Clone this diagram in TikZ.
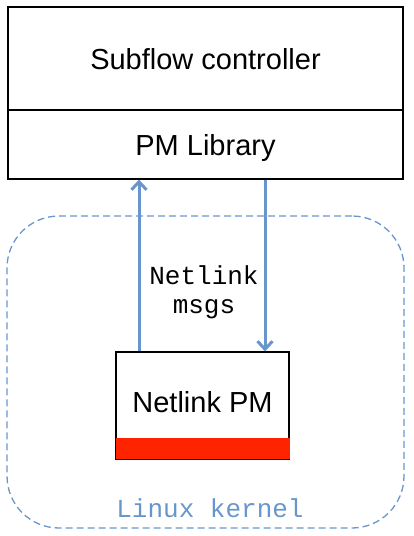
\documentclass[tikz,border=0pt]{standalone}
\usepackage{fontspec}
\setmainfont{Liberation Sans}
\newfontfamily\monofont{Liberation Mono}
\usetikzlibrary{arrows.meta}
\definecolor{kblue}{RGB}{104,150,204}
\definecolor{pmred}{RGB}{255,36,0}
\tikzset{
  box/.style={draw=black, line width=1.2pt, fill=white, inner sep=0pt, text depth=0pt,
    font=\fontsize{29}{34}\selectfont},
  arr/.style={draw=kblue, line width=3pt, -{Straight Barb[length=8pt,width=15pt,line width=3pt]}},
  kernelbox/.style={draw=kblue, line width=1.3pt, dash pattern=on 7pt off 4pt, rounded corners=52pt, inner sep=0pt},
  mono/.style={font=\monofont\fontsize{26}{30}\selectfont},
}
\begin{document}
\begin{tikzpicture}[x=1pt,y=-1pt]
\useasboundingbox (0,0) rectangle (413,536);
\node[kernelbox, minimum width=397pt, minimum height=312pt] (kernel) at (205.5,372) {};
\node[mono, text=kblue] (klabel) at (210,508) {Linux kernel};
\node[box, minimum width=395pt, minimum height=103pt] (sub) at (205.5,58.5) {Subflow controller};
\node[box, minimum width=395pt, minimum height=69pt] (pml) at (205.5,144.5) {PM Library};
\node[box, minimum width=173pt, minimum height=107pt] (npm) at (202.5,405.5) {};
\node[fill=pmred, inner sep=0pt, minimum width=174pt, minimum height=21pt] (band) at (202.5,448.5) {};
\node[font=\fontsize{29}{34}\selectfont, text depth=0pt] (npmtext) at (202.5,402) {Netlink PM};
\coordinate (a1) at (139,0);
\coordinate (a2) at (265,0);
\draw[arr] (npm.north -| a1) -- (pml.south -| a1);
\draw[arr] (pml.south -| a2) -- (npm.north -| a2);
\node[mono, align=center, inner sep=0pt] (msg) at (204,292) {Netlink\\[-1pt]msgs};
\end{tikzpicture}
\end{document}
